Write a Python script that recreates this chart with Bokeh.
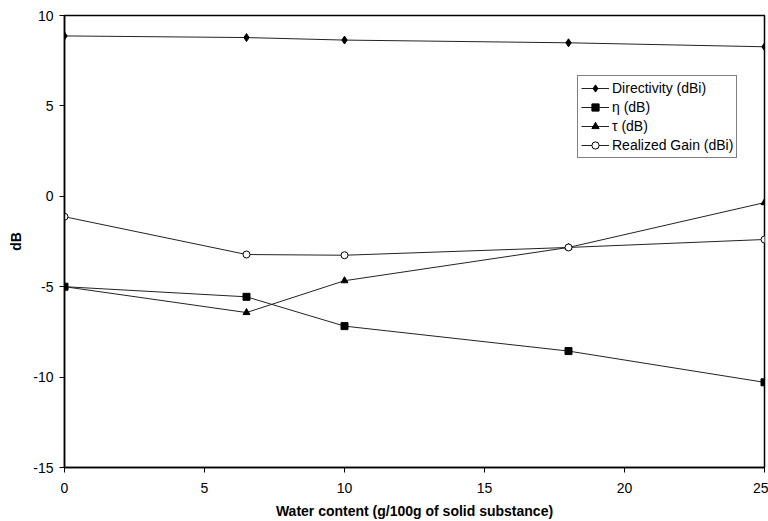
from bokeh.plotting import figure
from bokeh.models import Range1d, FixedTicker, Legend, LegendItem
from bokeh.embed import file_html
from bokeh.resources import INLINE

water = [0, 6.5, 10, 18, 25]
directivity = [8.87, 8.78, 8.64, 8.49, 8.27]
eta = [-5.0, -5.56, -7.18, -8.56, -10.29]
tau = [-5.0, -6.43, -4.67, -2.83, -0.35]
realized_gain = [-1.13, -3.22, -3.26, -2.83, -2.39]

x_ticks = [0, 5, 10, 15, 20, 25]
y_ticks = [-15, -10, -5, 0, 5, 10]
y_tick_labels = ["-15", "-10", "-5", "0", "5", "10"]

series_names = ["Directivity (dBi)", "\u03b7 (dB)", "\u03c4 (dB)", "Realized Gain (dBi)"]

FONT = "Liberation Sans"

p = figure(width=768, height=521, output_backend="svg", toolbar_location=None,
           x_range=Range1d(0, 25), y_range=Range1d(-15, 10),
           min_border_left=64, min_border_top=15, min_border_right=4, min_border_bottom=54)
p.background_fill_color = "white"
p.border_fill_color = "white"
p.outline_line_color = "black"
p.outline_line_width = 1.5
p.xgrid.visible = False
p.ygrid.visible = False

for ax in (p.xaxis[0], p.yaxis[0]):
    ax.axis_line_color = "black"
    ax.axis_line_width = 1.5
    ax.major_tick_line_color = "black"
    ax.major_tick_in = 0
    ax.major_tick_out = 5
    ax.minor_tick_line_color = None
    ax.major_label_text_font = FONT
    ax.major_label_text_font_size = "14px"
    ax.major_label_text_color = "black"
    ax.axis_label_text_font = FONT
    ax.axis_label_text_font_size = "14px"
    ax.axis_label_text_font_style = "bold"
    ax.axis_label_text_color = "black"

p.xaxis.ticker = FixedTicker(ticks=x_ticks)
p.yaxis.ticker = FixedTicker(ticks=y_ticks)
p.yaxis.major_label_overrides = {t: s for t, s in zip(y_ticks, y_tick_labels)}
p.xaxis.axis_label = "Water content (g/100g of solid substance)"
p.yaxis.axis_label = "dB"
p.xaxis.major_label_standoff = 10
p.yaxis.major_label_standoff = 6
p.xaxis.axis_label_standoff = 7
p.yaxis.axis_label_standoff = 6

LC = "#222222"
items = []
l1 = p.line(water, directivity, line_color=LC, line_width=1)
m1 = p.scatter(water, directivity, marker="diamond", size=8, fill_color="black", line_color="black")
items.append(LegendItem(label=series_names[0], renderers=[l1, m1]))
l2 = p.line(water, eta, line_color=LC, line_width=1)
m2 = p.scatter(water, eta, marker="square", size=7, fill_color="black", line_color="black")
items.append(LegendItem(label=series_names[1], renderers=[l2, m2]))
l3 = p.line(water, tau, line_color=LC, line_width=1)
m3 = p.scatter(water, tau, marker="triangle", size=7, fill_color="black", line_color="black")
items.append(LegendItem(label=series_names[2], renderers=[l3, m3]))
l4 = p.line(water, realized_gain, line_color=LC, line_width=1)
m4 = p.scatter(water, realized_gain, marker="circle", size=7, fill_color="white", line_color="black")
items.append(LegendItem(label=series_names[3], renderers=[l4, m4]))

legend = Legend(items=items, location=(513, 309))
legend.border_line_color = "black"
legend.border_line_width = 1
legend.background_fill_color = "white"
legend.background_fill_alpha = 1
legend.label_text_font = FONT
legend.label_text_font_size = "14px"
legend.label_text_color = "black"
legend.glyph_width = 28
legend.glyph_height = 18
legend.label_height = 18
legend.label_standoff = 3
legend.spacing = 1
legend.padding = 3
legend.margin = 0
p.add_layout(legend, "center")

open("out.html", "w").write(file_html(p, INLINE))
